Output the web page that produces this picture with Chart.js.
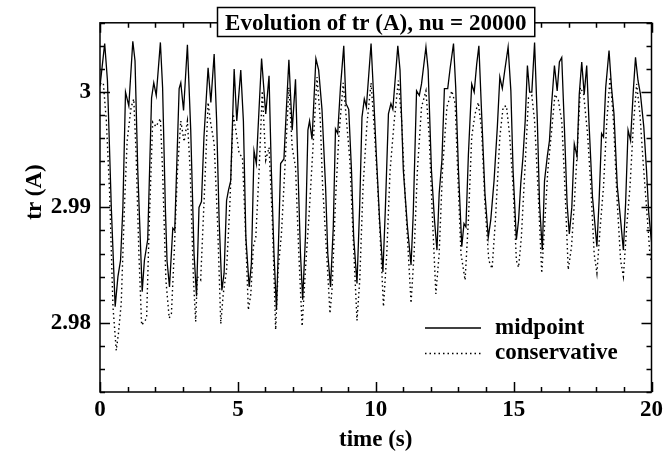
<!DOCTYPE html>
<html>
<head>
<meta charset="utf-8">
<script src="https://cdn.jsdelivr.net/npm/chart.js@4.4.1/dist/chart.umd.min.js"></script>
<style>
  html, body { margin: 0; padding: 0; background: #fff; }
  #wrap { width: 667px; height: 463px; }
</style>
</head>
<body>
<div id="wrap"><canvas id="trChart" width="667" height="463"></canvas></div>
<script>
// time (s) and tr(A), midpoint scheme
const midT = [
  0, 0.17, 0.27, 0.41, 0.55, 0.65, 0.745, 0.83, 0.925, 1.045,
  1.19, 1.27, 1.37, 1.53, 1.61, 1.73, 1.87, 1.95, 2.04, 2.19,
  2.27, 2.37, 2.43, 2.52, 2.64, 2.71, 2.87, 2.93, 3.03, 3.17,
  3.29, 3.41, 3.50, 3.59, 3.68, 3.77, 3.92, 4.02, 4.14, 4.23,
  4.32, 4.42, 4.50, 4.59, 4.66, 4.74, 4.865, 4.96, 5.105, 5.2,
  5.29, 5.41, 5.49, 5.585, 5.67, 5.765, 5.86, 6.01, 6.13, 6.21,
  6.31, 6.40, 6.49, 6.55, 6.67, 6.75, 6.85, 6.97, 7.09, 7.18,
  7.27, 7.35, 7.45, 7.54, 7.60, 7.69, 7.83, 7.93, 8.05, 8.18,
  8.26, 8.36, 8.46, 8.54, 8.62, 8.72, 8.84, 8.92, 9.02, 9.12,
  9.2, 9.32, 9.42, 9.5, 9.585, 9.66, 9.83, 9.92, 10.02, 10.14,
  10.26, 10.35, 10.46, 10.55, 10.62, 10.80, 10.88, 11.0, 11.15, 11.28,
  11.36, 11.48, 11.58, 11.66, 11.82, 11.9, 12.02, 12.13, 12.22, 12.30,
  12.40, 12.49, 12.61, 12.70, 12.82, 12.90, 13.0, 13.12, 13.20, 13.27,
  13.36, 13.48, 13.57, 13.66, 13.74, 13.84, 13.96, 14.08, 14.17, 14.29,
  14.41, 14.50, 14.59, 14.68, 14.80, 14.90, 14.98, 15.10, 15.18, 15.26,
  15.34, 15.42, 15.50, 15.58, 15.66, 15.76, 15.86, 15.94, 16.04, 16.12,
  16.22, 16.30, 16.38, 16.48, 16.58, 16.66, 16.745, 16.84, 16.94, 17.02,
  17.11, 17.2, 17.30, 17.38, 17.47, 17.56, 17.65, 17.74, 17.86, 18.02,
  18.10, 18.19, 18.26, 18.34, 18.46, 18.55, 18.64, 18.76, 18.88, 18.98,
  19.06, 19.15, 19.24, 19.34, 19.42, 19.51, 19.60, 19.72, 19.82, 19.90, 20.0
];
const midY = [
  3.0005, 3.0042, 3.0010, 2.9900, 2.9814, 2.9840, 2.9854, 2.9900, 3.0000, 2.9988,
  3.0044, 3.0027, 2.9932, 2.9827, 2.9854, 2.9872, 2.9995, 3.0008, 2.9997, 3.0043,
  3.0004, 2.9900, 2.9854, 2.9831, 2.9882, 2.9880, 3.0003, 3.0008, 2.9984, 3.0041,
  2.9967, 2.9860, 2.9823, 2.9900, 2.9905, 2.9961, 3.0021, 2.9991, 3.0033, 2.9975,
  2.9889, 2.9828, 2.9843, 2.9906, 2.9915, 2.9923, 3.0020, 2.9975, 3.0019, 2.9975,
  2.9874, 2.9831, 2.9851, 2.9949, 2.9938, 2.9984, 3.0029, 2.9981, 3.0014, 2.9935,
  2.9860, 2.9811, 2.9883, 2.9938, 2.9942, 2.9981, 3.0028, 2.9967, 3.0011, 2.9932,
  2.9860, 2.9820, 2.9874, 2.9967, 2.9975, 2.9959, 3.0029, 3.0019, 2.9985, 2.9918,
  2.9860, 2.9831, 2.9883, 2.9968, 2.9964, 3.0004, 3.0040, 2.9990, 2.9985, 2.9932,
  2.9874, 2.9834, 2.9903, 2.9978, 2.9994, 2.9987, 3.0042, 2.9998, 2.9946, 2.9889,
  2.9844, 2.9900, 2.9981, 2.9990, 2.9985, 3.0040, 3.0019, 2.9932, 2.9883, 2.9850,
  2.9895, 3.0001, 2.9997, 3.0007, 3.0039, 3.0019, 2.9932, 2.9889, 2.9863, 2.9912,
  2.9941, 3.0003, 3.0003, 3.0021, 3.0042, 3.0004, 2.9932, 2.9866, 2.9886, 2.9883,
  2.9946, 3.0007, 3.0000, 3.0024, 3.0040, 2.9981, 2.9912, 2.9874, 2.9889, 2.9923,
  2.9970, 3.0013, 3.0003, 3.0019, 3.0039, 3.0001, 2.9932, 2.9872, 2.9889, 2.9921,
  2.9944, 2.9975, 3.0023, 3.0000, 3.0000, 3.0043, 2.9975, 2.9903, 2.9863, 2.9923,
  2.9944, 2.9958, 2.9990, 3.0023, 3.0001, 3.0026, 3.0030, 2.9970, 2.9903, 2.9877,
  2.9900, 2.9955, 2.9944, 2.9998, 3.0026, 2.9998, 3.0023, 2.9970, 2.9909, 2.9866,
  2.9906, 2.9964, 2.9961, 3.0004, 3.0036, 3.0004, 2.9981, 2.9918, 2.9889, 2.9863,
  2.9903, 2.9967, 2.9958, 3.0001, 3.0030, 3.0010, 2.9998, 2.9970, 2.9932, 2.9895, 2.9870
];

// conservative scheme
const consT = [
  0, 0.12, 0.23, 0.35, 0.47, 0.59, 0.67, 0.77, 0.89, 0.985,
  1.13, 1.225, 1.31, 1.41, 1.51, 1.61, 1.69, 1.79, 1.91, 2.03,
  2.19, 2.27, 2.39, 2.51, 2.59, 2.69, 2.81, 2.93, 3.05, 3.17,
  3.27, 3.39, 3.47, 3.53, 3.65, 3.77, 3.92, 4.0, 4.08, 4.14,
  4.26, 4.38, 4.47, 4.59, 4.71, 4.83, 4.925, 5.05, 5.165, 5.26,
  5.38, 5.47, 5.56, 5.65, 5.77, 5.885, 6.01, 6.13, 6.25, 6.37,
  6.46, 6.58, 6.70, 6.85, 6.97, 7.09, 7.21, 7.33, 7.45, 7.57,
  7.69, 7.87, 7.99, 8.07, 8.22, 8.34, 8.42, 8.54, 8.66, 8.82,
  8.94, 9.06, 9.18, 9.32, 9.42, 9.54, 9.68, 9.83, 9.95, 10.07,
  10.19, 10.28, 10.40, 10.52, 10.67, 10.82, 10.94, 11.06, 11.18, 11.28,
  11.39, 11.51, 11.66, 11.82, 11.94, 12.06, 12.18, 12.30, 12.42, 12.58,
  12.76, 12.88, 12.97, 13.09, 13.24, 13.36, 13.48, 13.60, 13.72, 13.84,
  13.96, 14.10, 14.22, 14.34, 14.50, 14.62, 14.74, 14.86, 14.98, 15.10,
  15.18, 15.28, 15.42, 15.54, 15.66, 15.76, 15.88, 16.02, 16.12, 16.24,
  16.38, 16.50, 16.62, 16.745, 16.86, 16.98, 17.1, 17.2, 17.30, 17.42,
  17.54, 17.68, 17.80, 17.92, 18.02, 18.14, 18.26, 18.38, 18.50, 18.62,
  18.76, 18.88, 18.98, 19.10, 19.22, 19.34, 19.46, 19.58, 19.70, 19.82, 19.94, 20.0
];
const consY = [
  3.0007, 3.0008, 2.9975, 2.9912, 2.9814, 2.9776, 2.9791, 2.9817, 2.9903, 2.9958,
  2.9987, 2.9994, 2.9946, 2.9860, 2.9798, 2.9801, 2.9804, 2.9889, 2.9974, 2.9970,
  2.9977, 2.9932, 2.9837, 2.9804, 2.9808, 2.9860, 2.9932, 2.9975, 2.9957, 2.9975,
  2.9932, 2.9837, 2.9801, 2.9840, 2.9837, 2.9903, 2.9991, 2.9975, 2.9964, 2.9955,
  2.9889, 2.9799, 2.9825, 2.9846, 2.9903, 2.9981, 2.9967, 2.9946, 2.9944, 2.9889,
  2.9811, 2.9825, 2.9866, 2.9874, 2.9932, 3.0001, 2.9941, 2.9952, 2.9889, 2.9794,
  2.9846, 2.9877, 2.9932, 3.0004, 2.9952, 2.9935, 2.9860, 2.9797, 2.9846, 2.9889,
  2.9938, 3.0013, 2.9975, 2.9920, 2.9860, 2.9808, 2.9831, 2.9906, 2.9961, 3.0008,
  2.9975, 2.9941, 2.9874, 2.9802, 2.9837, 2.9918, 2.9972, 3.0008, 2.9967, 2.9918,
  2.9860, 2.9814, 2.9860, 2.9932, 2.9975, 3.0010, 2.9975, 2.9912, 2.9860, 2.9817,
  2.9860, 2.9932, 2.9987, 3.0001, 2.9961, 2.9889, 2.9825, 2.9860, 2.9932, 2.9987,
  3.0001, 2.9990, 2.9932, 2.9860, 2.9837, 2.9889, 2.9961, 2.9981, 2.9991, 2.9967,
  2.9903, 2.9854, 2.9847, 2.9889, 2.9961, 2.9987, 2.9988, 2.9961, 2.9918, 2.9854,
  2.9848, 2.9874, 2.9938, 2.9995, 2.9997, 2.9975, 2.9918, 2.9843, 2.9883, 2.9932,
  2.9967, 2.9998, 2.9993, 2.9975, 2.9918, 2.9846, 2.9866, 2.9903, 2.9946, 3.0004,
  2.9998, 2.9964, 2.9918, 2.9860, 2.9843, 2.9883, 2.9918, 2.9975, 3.0013, 2.9975,
  2.9903, 2.9854, 2.9840, 2.9883, 2.9918, 2.9970, 3.0007, 2.9981, 2.9938, 2.9900, 2.9860, 2.9852
];

const seriesNames = ['midpoint', 'conservative'];
const chartTitle = 'Evolution of tr (A), nu = 20000';
const yTitle = 'tr (A)';

// axis ticks
const xMajorTicks = [0, 5, 10, 15, 20];
const xMinorTicks = [1, 2, 3, 4, 6, 7, 8, 9, 11, 12, 13, 14, 16, 17, 18, 19];
const yMajorTicks = [2.98, 2.99, 3.0];
const yMinorTicks = [2.974, 2.976, 2.978, 2.982, 2.984, 2.986, 2.988, 2.992, 2.994, 2.996, 2.998, 3.002, 3.004, 3.006];

const FONT = '"Liberation Serif", "Times New Roman", serif';
const FSIZE = 23;

function toPoints(ts, ys) {
  return ts.map((t, i) => ({ x: t, y: ys[i] }));
}

// frame, inward ticks on all four sides, title box, y title and legend
const decorPlugin = {
  id: 'decor',
  afterDatasetsDraw(chart) {
    const ctx = chart.ctx;
    const a = chart.chartArea;
    const xs = chart.scales.x;
    const ys = chart.scales.y;
    ctx.save();
    ctx.strokeStyle = '#000';
    ctx.lineWidth = 1.5;

    ctx.beginPath();
    function xTick(v, len) {
      const px = Math.round(xs.getPixelForValue(v)) + 0.5;
      ctx.moveTo(px, a.bottom); ctx.lineTo(px, a.bottom - len);
      ctx.moveTo(px, a.top); ctx.lineTo(px, a.top + len);
    }
    function yTick(v, len) {
      const py = Math.round(ys.getPixelForValue(v)) + 0.5;
      ctx.moveTo(a.left, py); ctx.lineTo(a.left + len, py);
      ctx.moveTo(a.right, py); ctx.lineTo(a.right - len, py);
    }
    xMajorTicks.forEach(v => xTick(v, 10));
    xMinorTicks.forEach(v => xTick(v, 5));
    yMajorTicks.forEach(v => yTick(v, 10));
    yMinorTicks.forEach(v => yTick(v, 5));
    ctx.stroke();

    ctx.strokeRect(a.left, a.top, a.right - a.left, a.bottom - a.top);

    // title box straddling the top axis
    ctx.font = 'bold ' + FSIZE + 'px ' + FONT;
    const tw = ctx.measureText(chartTitle).width;
    const cx = (a.left + a.right) / 2;
    const bw = tw + 16, bh = 29;
    const bx = Math.round(cx - bw / 2) + 0.5, by = 7.5;
    ctx.fillStyle = '#fff';
    ctx.fillRect(bx, by, bw, bh);
    ctx.strokeRect(bx, by, bw, bh);
    ctx.fillStyle = '#000';
    ctx.textAlign = 'center';
    ctx.textBaseline = 'alphabetic';
    ctx.fillText(chartTitle, cx, by + 22.5);

    // y axis title
    ctx.save();
    ctx.translate(35, 192);
    ctx.rotate(-Math.PI / 2);
    ctx.textBaseline = 'middle';
    ctx.fillText(yTitle, 0, 0);
    ctx.restore();

    // legend
    ctx.textAlign = 'left';
    ctx.textBaseline = 'alphabetic';
    chart.data.datasets.forEach((ds, i) => {
      const ly = 328 + i * 25.5;
      ctx.beginPath();
      ctx.lineWidth = ds.borderWidth;
      ctx.setLineDash(ds.borderDash || []);
      ctx.moveTo(425, ly);
      ctx.lineTo(481, ly);
      ctx.stroke();
      ctx.setLineDash([]);
      ctx.fillText(ds.label, 495, ly + 5.5);
    });
    ctx.restore();
  }
};

new Chart(document.getElementById('trChart').getContext('2d'), {
  type: 'line',
  data: {
    datasets: [
      {
        label: seriesNames[0],
        data: toPoints(midT, midY),
        borderColor: '#000',
        borderWidth: 1.3,
        pointRadius: 0,
        tension: 0,
        fill: false
      },
      {
        label: seriesNames[1],
        data: toPoints(consT, consY),
        borderColor: '#000',
        borderWidth: 1.4,
        borderDash: [1.5, 3],
        pointRadius: 0,
        tension: 0,
        fill: false
      }
    ]
  },
  options: {
    responsive: false,
    animation: false,
    devicePixelRatio: 1,
    layout: { padding: { left: 0, right: 12, top: 22, bottom: 0 } },
    plugins: {
      legend: { display: false },
      tooltip: { enabled: false },
      title: { display: false }
    },
    scales: {
      x: {
        type: 'linear',
        min: 0,
        max: 20,
        afterFit(s) { s.height = 71; },
        afterBuildTicks(s) { s.ticks = xMajorTicks.map(v => ({ value: v })); },
        grid: { display: false, drawTicks: false, tickLength: 0 },
        border: { display: false },
        ticks: {
          color: '#000',
          padding: 4,
          maxRotation: 0,
          font: { family: FONT, size: FSIZE, weight: 'bold' }
        },
        title: {
          display: true,
          text: 'time (s)',
          color: '#000',
          padding: { top: 0, bottom: 9 },
          font: { family: FONT, size: FSIZE, weight: 'bold' }
        }
      },
      y: {
        type: 'linear',
        min: 2.974,
        max: 3.006,
        afterFit(s) { s.width = 100; },
        afterBuildTicks(s) { s.ticks = yMajorTicks.map(v => ({ value: v })); },
        grid: { display: false, drawTicks: false, tickLength: 0 },
        border: { display: false },
        ticks: {
          color: '#000',
          padding: 9,
          font: { family: FONT, size: FSIZE, weight: 'bold' },
          callback: v => String(+v.toFixed(3))
        },
        title: { display: false }
      }
    }
  },
  plugins: [decorPlugin]
});
</script>
</body>
</html>
